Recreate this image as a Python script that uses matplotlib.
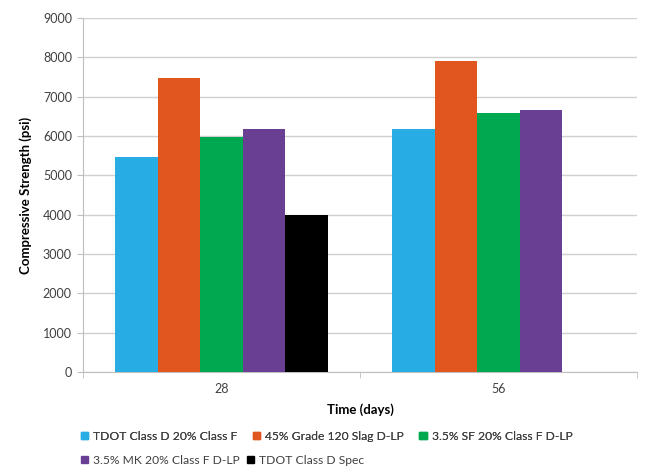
import matplotlib
matplotlib.use("Agg")
import matplotlib.pyplot as plt
import numpy as np
from matplotlib.patches import Patch

plt.rcParams['font.family'] = ['Lato', 'DejaVu Sans']

categories = ["28", "56"]
series_names = ["TDOT Class D 20% Class F", "45% Grade 120 Slag D-LP",
                "3.5% SF 20% Class F D-LP", "3.5% MK 20% Class F D-LP",
                "TDOT Class D Spec"]
values = {
    "TDOT Class D 20% Class F": [5470, 6180],
    "45% Grade 120 Slag D-LP": [7480, 7910],
    "3.5% SF 20% Class F D-LP": [5980, 6590],
    "3.5% MK 20% Class F D-LP": [6180, 6660],
    "TDOT Class D Spec": [4000, np.nan],
}
colors = ["#27ACE3", "#E1561E", "#00A84F", "#693F94", "#000000"]
yticks = [0, 1000, 2000, 3000, 4000, 5000, 6000, 7000, 8000, 9000]

fig = plt.figure(figsize=(6.52, 4.73), dpi=100)
ax = fig.add_axes([83/652, 1-372/473, (637-83)/652, (372-18)/473])

n = len(series_names)
gap = 0.3
group_w = 1.0 / (1 + gap)
bw = group_w / n
x = np.arange(len(categories))
for i, name in enumerate(series_names):
    offs = -group_w/2 + bw*(i+0.5)
    ax.bar(x + offs, values[name], width=bw, color=colors[i], label=name, zorder=3)

ax.set_xlim(-0.5, len(categories)-0.5)
ax.set_ylim(0, 9000)
ax.set_yticks(yticks)
ax.set_yticklabels([str(t) for t in yticks], fontsize=9, color="#404040")
ax.set_xticks(x)
ax.set_xticklabels(categories, fontsize=9, color="#404040")
ax.tick_params(axis='x', length=0, pad=8)
ax.tick_params(axis='y', length=4, color="#BFBFBF", pad=4)
# category boundary ticks
ax.set_xticks(np.arange(-0.5, len(categories), 1.0), minor=True)
ax.tick_params(axis='x', which='minor', length=4, color="#BFBFBF")

ax.grid(axis='y', color="#D0D0D0", linewidth=1, zorder=0)
for s in ['top', 'right']:
    ax.spines[s].set_visible(False)
ax.spines['left'].set_color("#BFBFBF")
ax.spines['bottom'].set_color("#BFBFBF")

ax.set_ylabel("Compressive Strength (psi)", fontsize=9.5, fontweight='bold', labelpad=8)
ax.set_xlabel("Time (days)", fontsize=9.5, fontweight='bold', labelpad=6)

handles = [Patch(color=c) for c in colors]
leg_kw = dict(loc='upper left', frameon=False, fontsize=8.7, handlelength=0.6,
              handleheight=0.6, handletextpad=0.4, borderaxespad=0,
              labelcolor="#404040")
leg1 = fig.legend(handles[:3], series_names[:3],
                  bbox_to_anchor=(76/652, 1-426/473), ncol=3,
                  columnspacing=1.3, **leg_kw)
leg2 = fig.legend(handles[3:], series_names[3:],
                  bbox_to_anchor=(76/652, 1-450/473), ncol=2,
                  columnspacing=0.6, **leg_kw)
fig.add_artist(leg1)

fig.savefig("out.png", dpi=100)
